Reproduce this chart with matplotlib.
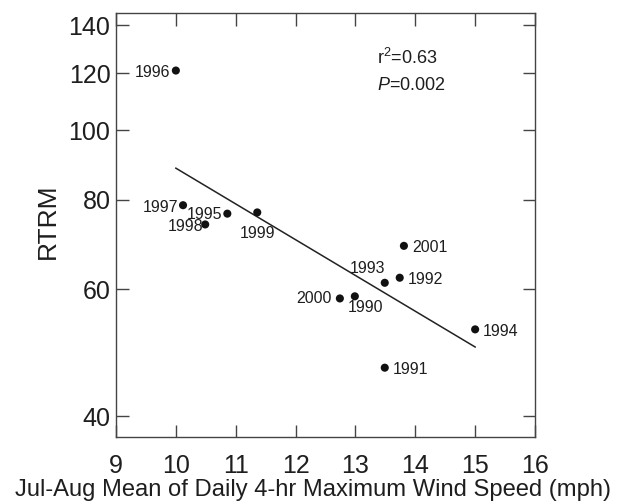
import matplotlib
matplotlib.use("Agg")
import matplotlib.pyplot as plt
from matplotlib.ticker import FixedLocator, NullLocator, FixedFormatter

plt.rcParams['font.family'] = ['Liberation Sans', 'DejaVu Sans']
plt.rcParams['mathtext.fontset'] = 'custom'
plt.rcParams['mathtext.rm'] = 'Liberation Sans'
plt.rcParams['mathtext.it'] = 'Liberation Sans:italic'

# Wind speed (mph) vs RTRM by year
years = ['1996', '1997', '1995', '1998', '1999', '2001', '1993', '1992',
         '2000', '1990', '1994', '1991']
wind = [10.0, 10.12, 10.86, 10.49, 11.36, 13.81, 13.49, 13.74,
        12.74, 12.99, 15.0, 13.49]
rtrm = [121.0, 78.6, 76.5, 73.9, 76.8, 69.0, 61.3, 62.3,
        58.3, 58.7, 52.8, 46.7]

# label offsets (pixels) and alignment for each year
label_dx = [-6, -5, -5, -2, 0, 8, 0, 8, -8, 11, 8, 8]
label_dy = [-2, -2, -1, -2, -21, -2, 14, -2, 0, -11, -2, -2]
label_ha = ['right', 'right', 'right', 'right', 'center', 'left', 'right',
            'left', 'right', 'center', 'left', 'left']

# regression line endpoints
fit_x = [10.0, 15.0]
fit_y = [88.5, 49.9]

x_ticks = [9, 10, 11, 12, 13, 14, 15, 16]
y_ticks = [40, 60, 80, 100, 120, 140]

text_color = '#1e1e1e'
spine_color = '#444444'

fig = plt.figure(figsize=(6.18, 5.04), dpi=100)
ax = fig.add_axes([116 / 618, 67 / 504, 419 / 618, 424 / 504])

ax.set_yscale('log')
ax.set_xlim(9, 16)
ax.set_ylim(37.40, 145.5)

ax.plot(fit_x, fit_y, color='#222222', lw=1.1, zorder=2)
ax.scatter(wind, rtrm, s=34, color='#111111', edgecolors='none', zorder=3)

for yr, x, y, dx, dy, ha in zip(years, wind, rtrm, label_dx, label_dy, label_ha):
    ax.annotate(yr, (x, y), xytext=(dx, dy), textcoords='offset pixels',
                ha=ha, va='center', fontsize=11.5, color=text_color)

ax.text(0.623, 0.894, r'r$^2$=0.63', transform=ax.transAxes, fontsize=13,
        color=text_color, ha='left', va='center')
ax.text(0.623, 0.830, r'$P$=0.002', transform=ax.transAxes, fontsize=13,
        color=text_color, ha='left', va='center')

ax.xaxis.set_major_locator(FixedLocator(x_ticks))
ax.xaxis.set_minor_locator(NullLocator())
ax.yaxis.set_major_locator(FixedLocator(y_ticks))
ax.yaxis.set_major_formatter(FixedFormatter([str(v) for v in y_ticks]))
ax.yaxis.set_minor_locator(NullLocator())

ax.tick_params(axis='both', which='major', direction='in', length=9,
               width=1, color=spine_color, labelcolor=text_color,
               labelsize=18, top=True, right=True)
ax.tick_params(axis='x', pad=12)
ax.tick_params(axis='y', pad=4)

for sp in ax.spines.values():
    sp.set_color(spine_color)
    sp.set_linewidth(1)

ax.set_xlabel('Jul-Aug Mean of Daily 4-hr Maximum Wind Speed (mph)',
              fontsize=17.1, color=text_color)
ax.xaxis.set_label_coords(0.471, -0.099)
ax.set_ylabel('RTRM', fontsize=19, color=text_color)
ax.yaxis.set_label_coords(-0.134, 0.509)

fig.savefig('out.png', dpi=100)
